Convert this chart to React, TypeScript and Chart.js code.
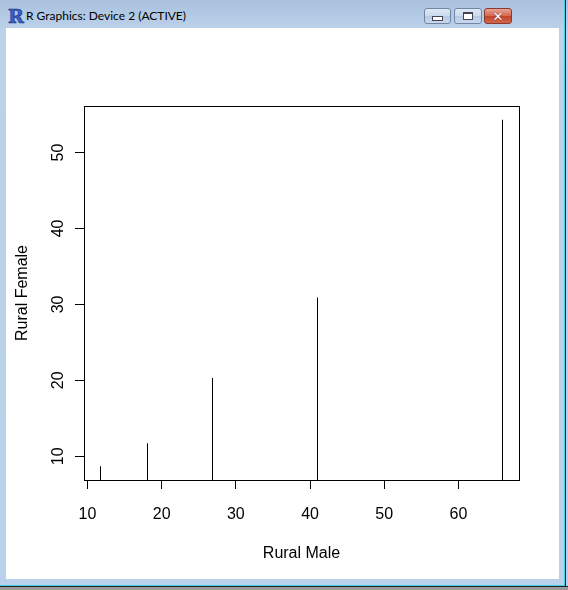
import React, { useEffect, useRef } from "react";
import { Chart, registerables } from "chart.js";

Chart.register(...registerables);

const ruralMale = [11.7, 18.1, 26.9, 41.0, 66.0];
const ruralFemale = [8.7, 11.7, 20.3, 30.9, 54.3];
const xTicks = [10, 20, 30, 40, 50, 60];
const yTicks = [10, 20, 30, 40, 50];
const xTitle = "Rural Male";
const yTitle = "Rural Female";
const windowTitle = "R Graphics: Device 2 (ACTIVE)";

const FONT = "'Liberation Sans', Arial, sans-serif";

const boxPlugin = {
  id: "rbox",
  afterDatasetsUpdate(chart: any) {
    // snap 1px bars onto whole pixels so they render crisp
    chart.getDatasetMeta(0).data.forEach((el: any) => {
      el.x = Math.floor(el.x) + 0.5;
    });
  },
  afterDraw(chart: any) {
    const { ctx, chartArea } = chart;
    ctx.save();
    ctx.strokeStyle = "#000";
    ctx.lineWidth = 1;
    ctx.strokeRect(
      Math.round(chartArea.left) + 0.5,
      Math.round(chartArea.top) + 0.5,
      Math.round(chartArea.right - chartArea.left),
      Math.round(chartArea.bottom - chartArea.top)
    );
    ctx.restore();
  },
};

function rangeOf(vals: number[]) {
  const mn = Math.min(...vals);
  const mx = Math.max(...vals);
  const ext = (mx - mn) * 0.04;
  return [mn - ext, mx + ext];
}

function Plot() {
  const ref = useRef<HTMLCanvasElement>(null);
  useEffect(() => {
    const [xmin, xmax] = rangeOf(ruralMale);
    const [ymin, ymax] = rangeOf(ruralFemale);
    const chart = new Chart(ref.current!, {
      type: "bar",
      data: {
        datasets: [
          {
            data: ruralMale.map((x, i) => ({ x, y: ruralFemale[i] })),
            backgroundColor: "#000",
            borderWidth: 0,
            barThickness: 1,
            inflateAmount: 0,
          } as any,
        ],
      },
      options: {
        responsive: false,
        animation: false,
        layout: { padding: { left: 0, top: 78, right: 40, bottom: 9 } },
        plugins: { legend: { display: false }, tooltip: { enabled: false } },
        scales: {
          x: {
            type: "linear",
            min: xmin,
            max: xmax,
            offset: false,
            afterFit: (s: any) => {
              s.height = 90;
            },
            afterBuildTicks: (s: any) => {
              s.ticks = xTicks.map((v) => ({ value: v }));
            },
            grid: {
              offset: false,
              drawOnChartArea: false,
              drawTicks: true,
              tickLength: 9,
              color: "#000",
              lineWidth: 1,
            },
            border: { display: false },
            ticks: {
              color: "#000",
              padding: 16,
              includeBounds: false,
              maxRotation: 0,
              autoSkip: false,
              font: { family: FONT, size: 16 },
            },
            title: {
              display: true,
              text: xTitle,
              color: "#000",
              font: { family: FONT, size: 16 },
              padding: { top: 0, bottom: 7 },
            },
          },
          y: {
            type: "linear",
            min: ymin,
            max: ymax,
            afterFit: (s: any) => {
              s.width = 78;
            },
            afterBuildTicks: (s: any) => {
              s.ticks = yTicks.map((v) => ({ value: v }));
            },
            grid: {
              drawOnChartArea: false,
              drawTicks: true,
              tickLength: 9,
              color: "#000",
              lineWidth: 1,
            },
            border: { display: false },
            ticks: {
              color: "#000",
              padding: 8,
              includeBounds: false,
              minRotation: 90,
              maxRotation: 90,
              crossAlign: "center",
              autoSkip: false,
              font: { family: FONT, size: 16 },
            },
            title: {
              display: true,
              text: yTitle,
              color: "#000",
              font: { family: FONT, size: 16 },
              padding: { top: 7, bottom: 0 },
            },
          },
        },
      },
      plugins: [boxPlugin],
    });
    return () => chart.destroy();
  }, []);
  return <canvas ref={ref} width={553} height={551} style={{ display: "block" }} />;
}

function Btn({ left, width, red, children }: any) {
  return (
    <div
      style={{
        position: "absolute",
        left,
        top: 8,
        width,
        height: 16,
        boxSizing: "border-box",
        border: red ? "1px solid #8a3a2e" : "1px solid #6f86a6",
        borderRadius: 3,
        background: red
          ? "linear-gradient(#e8a493, #d4654f 50%, #c1432c 51%, #d0664c)"
          : "linear-gradient(#dfe9f5, #c9d9ec 50%, #b6c9e2 51%, #c8d8ec)",
        display: "flex",
        alignItems: "center",
        justifyContent: "center",
      }}
    >
      {children}
    </div>
  );
}

export default function App() {
  useEffect(() => {
    document.body.style.margin = "0";
  }, []);
  return (
    <div
      style={{
        position: "relative",
        width: 568,
        height: 590,
        overflow: "hidden",
        background: "linear-gradient(#a9c1de 0px, #bcd2ea 30px, #b9d1ea 100%)",
        fontFamily: FONT,
      }}
    >
      <div
        style={{
          position: "absolute",
          left: 8,
          top: 6,
          fontFamily: "'DejaVu Serif', serif",
          fontWeight: "bold",
          fontSize: 19,
          lineHeight: "20px",
          color: "#3a5fc8",
          WebkitTextStroke: "0.6px #1b2f80",
        }}
      >
        R
      </div>
      <div
        style={{
          position: "absolute",
          left: 26,
          top: 8,
          fontFamily: "Lato, sans-serif",
          fontSize: 12,
          lineHeight: "15px",
          color: "#000",
          whiteSpace: "nowrap",
        }}
      >
        {windowTitle}
      </div>
      <Btn left={424} width={27}>
        <div style={{ width: 9, height: 3, background: "#fff", border: "1px solid #445", marginTop: 5 }} />
      </Btn>
      <Btn left={454} width={28}>
        <div style={{ width: 8, height: 5, background: "#fff", border: "1px solid #445", borderTopWidth: 2 }} />
      </Btn>
      <Btn left={484} width={28} red>
        <div style={{ color: "#fff", fontWeight: "bold", fontSize: 13, lineHeight: "13px", fontFamily: "'DejaVu Sans', sans-serif", textShadow: "0 0 1px #600" }}>
          ✕
        </div>
      </Btn>
      <div style={{ position: "absolute", right: 2, top: 0, width: 1, height: 590, background: "#222" }} />
      <div style={{ position: "absolute", right: 3, top: 0, width: 1, height: 590, background: "#3fd0e6" }} />
      <div style={{ position: "absolute", left: 0, bottom: 3, width: 568, height: 1, background: "#222" }} />
      <div style={{ position: "absolute", left: 0, bottom: 4, width: 565, height: 1, background: "#3fd0e6" }} />
      <div style={{ position: "absolute", left: 0, bottom: 0, width: 568, height: 3, background: "#9a9a9a" }} />
      <div style={{ position: "absolute", left: 6, top: 28, width: 553, height: 551, background: "#fff" }}>
        <Plot />
      </div>
    </div>
  );
}
